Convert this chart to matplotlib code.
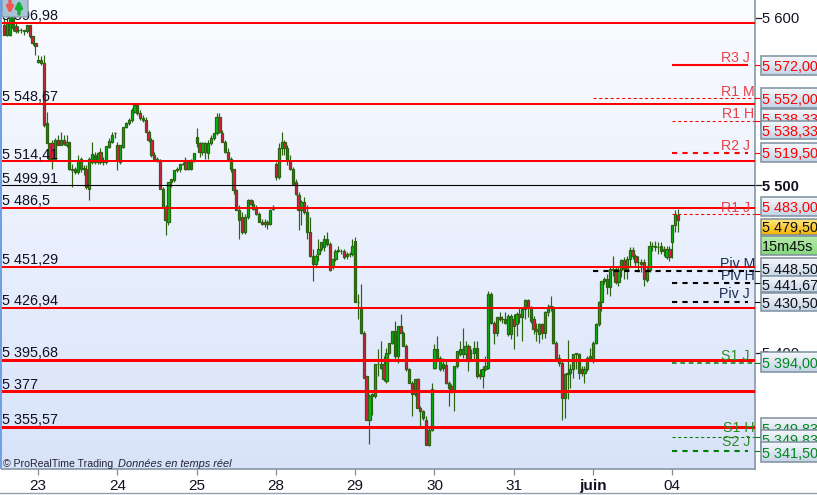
"""Recreate the ProRealTime 30 min candle chart with pivot levels."""

import matplotlib

matplotlib.use("Agg")

import matplotlib.pyplot as plt
import numpy as np
from matplotlib.patches import FancyBboxPatch

plt.rcParams["font.family"] = ["Liberation Sans", "DejaVu Sans"]

opens = [
    5596, 5590, 5590, 5601, 5595, 5593, 5592.5, 5592, 5592, 5596,
    5589, 5585, 5573.5, 5575, 5573, 5537, 5525, 5525, 5516, 5527,
    5524, 5527, 5524, 5526, 5510, 5510, 5508, 5510, 5510, 5510, 5498,
    5514, 5518, 5514, 5520, 5514, 5514, 5523, 5526, 5531, 5524,
    5514, 5523, 5535, 5537, 5539, 5544, 5548, 5543, 5540, 5539,
    5532, 5527, 5518, 5516, 5515, 5498, 5487, 5478, 5502, 5503,
    5509, 5510, 5513, 5515, 5510, 5515, 5515, 5529, 5525, 5520,
    5520, 5519, 5525, 5528, 5531, 5541, 5531, 5526, 5520,
    5516, 5510, 5497, 5485, 5481, 5472, 5481, 5491, 5489, 5486,
    5483, 5478, 5477, 5478, 5477, 5486, 5513, 5505, 5522, 5526,
    5522, 5515, 5510, 5502, 5494, 5485, 5490, 5484, 5472, 5458,
    5453, 5459, 5462, 5463, 5468, 5465, 5451, 5456, 5461, 5461,
    5461, 5458, 5459, 5459, 5467, 5430, 5427, 5412, 5386, 5360,
    5374, 5374, 5393, 5393, 5393, 5383, 5400, 5406, 5413, 5398,
    5416, 5412, 5404, 5390, 5382, 5375, 5384, 5367, 5365, 5360,
    5345, 5354, 5391, 5402, 5390, 5393, 5392.5, 5382, 5380, 5377,
    5392, 5399, 5399, 5399, 5404, 5399.5, 5400, 5403, 5387, 5386,
    5390, 5391, 5435, 5418, 5412, 5421, 5420, 5420, 5411, 5411,
    5420, 5417, 5423, 5421, 5426, 5431.5, 5427, 5420, 5414, 5411,
    5417, 5412, 5424, 5427, 5427, 5406, 5397, 5394, 5373, 5387,
    5388, 5390, 5399, 5399, 5390, 5388, 5390, 5397, 5396, 5406,
    5417, 5430, 5443, 5444, 5439, 5450, 5450, 5442, 5449.5, 5455.5,
    5449.5, 5456, 5461.5, 5457.5, 5454, 5454, 5454, 5443.5, 5449.5, 5464,
    5463.5, 5463, 5464, 5462, 5457, 5462, 5466, 5476, 5482,
]
highs = [
    5600, 5600, 5604, 5604, 5597, 5595, 5594, 5593, 5596, 5596,
    5589, 5585, 5578, 5577, 5578, 5544, 5525, 5527, 5528, 5530,
    5532, 5530, 5530, 5526, 5513, 5511, 5518, 5517, 5512, 5512, 5517,
    5526, 5520, 5520, 5522, 5517, 5523, 5528, 5532, 5532, 5526,
    5524, 5535, 5538, 5540, 5546, 5549, 5549, 5545, 5542, 5541,
    5533, 5528, 5520, 5517, 5516, 5499, 5488, 5502, 5504, 5509,
    5511, 5513, 5514, 5517, 5515, 5516, 5519, 5534, 5526, 5526,
    5526, 5527, 5530, 5531, 5543, 5543, 5533, 5527, 5522,
    5517, 5510, 5498, 5488, 5484, 5483, 5492, 5492, 5491, 5488,
    5484, 5480, 5480, 5479, 5486, 5488, 5514, 5525, 5532, 5527,
    5524, 5518, 5511, 5504, 5496, 5491, 5493, 5488, 5481, 5462,
    5459, 5468, 5466, 5470, 5472, 5466, 5456, 5462, 5464, 5462,
    5462, 5460, 5460, 5468, 5469, 5435, 5441, 5413, 5386, 5375,
    5376, 5393, 5402, 5407, 5398, 5403, 5406, 5413, 5419, 5416,
    5423, 5413, 5405, 5391, 5383, 5384, 5385, 5368, 5366, 5362,
    5355, 5382, 5405, 5410, 5398, 5397, 5395, 5383, 5381, 5392,
    5401, 5407, 5415, 5407, 5405, 5402, 5407, 5407, 5390, 5392,
    5398, 5437, 5436.5, 5419, 5421, 5424, 5422, 5424, 5423, 5423,
    5423, 5424, 5427, 5427, 5432, 5432, 5428, 5422, 5418, 5418,
    5418, 5425, 5429, 5434, 5428, 5407, 5399, 5395, 5388, 5407.6,
    5393, 5399, 5400, 5400, 5392, 5392, 5398, 5403, 5407, 5418,
    5431, 5443, 5445, 5447, 5451, 5457.5, 5452, 5451, 5456, 5457,
    5458, 5463, 5463, 5459, 5458, 5456, 5456, 5452, 5467, 5466,
    5467, 5466, 5466, 5464, 5464, 5464, 5476, 5485, 5485.7,
]
lows = [
    5590, 5589, 5589, 5592, 5591, 5591, 5591, 5590, 5591, 5588,
    5584, 5578, 5573, 5572, 5535, 5525, 5516, 5510, 5515, 5524,
    5524, 5524, 5523, 5509, 5499, 5507, 5507, 5508, 5506, 5498, 5491,
    5513, 5513, 5513, 5513, 5512, 5513, 5522, 5525, 5528, 5509,
    5513, 5522, 5534, 5536, 5538, 5543, 5542, 5539, 5538, 5532,
    5526, 5517, 5515, 5514, 5498, 5487, 5470, 5476, 5499, 5502,
    5508, 5508, 5512, 5509, 5509, 5509, 5514, 5523, 5517, 5518,
    5516, 5516, 5524, 5527, 5530, 5531, 5526, 5519, 5515,
    5508, 5495, 5485, 5468, 5471, 5471, 5480, 5488, 5485, 5482,
    5478, 5476, 5475, 5474, 5476, 5485, 5503, 5504, 5518, 5518,
    5512, 5509, 5500, 5494, 5473, 5476, 5483, 5468, 5457, 5443,
    5452, 5455, 5461, 5461, 5464, 5449, 5450, 5455, 5460, 5459,
    5456, 5456, 5457, 5458, 5430, 5420, 5411, 5385, 5360, 5345.5,
    5363, 5373, 5386, 5390, 5383, 5382, 5399, 5405, 5396, 5394,
    5412, 5404, 5389, 5382, 5362, 5374, 5367, 5355, 5360, 5345,
    5344, 5353, 5390, 5396, 5389, 5389, 5381, 5368, 5376, 5365,
    5391, 5398, 5397, 5396, 5389, 5396, 5396, 5385, 5384, 5379,
    5389, 5390, 5417, 5405, 5410, 5419, 5418, 5417, 5410, 5408,
    5402, 5410, 5418, 5407, 5420, 5421, 5418, 5411, 5407, 5406,
    5408, 5409, 5422, 5425, 5405, 5396, 5392, 5360, 5361, 5372,
    5379, 5385, 5390, 5384, 5386, 5382, 5389, 5395, 5394, 5405,
    5416, 5425, 5441, 5435, 5434, 5446, 5441, 5440, 5445, 5444,
    5444, 5451, 5456, 5451, 5448, 5448, 5440, 5442, 5448, 5461,
    5461, 5459, 5459, 5458, 5456, 5455, 5456.5, 5472, 5472,
]
closes = [
    5590, 5597, 5601, 5594, 5592, 5592.5, 5593, 5592.5, 5596, 5589,
    5585, 5583, 5575, 5573, 5536, 5525, 5516, 5516, 5527, 5524,
    5527, 5524.5, 5526, 5510, 5509, 5508, 5515, 5515.5, 5510.5, 5499, 5516,
    5518.5, 5514, 5519.5, 5514, 5515, 5523.5, 5526.5, 5530, 5531, 5515,
    5524, 5535, 5537, 5539, 5545, 5548, 5543, 5540, 5539, 5532,
    5527, 5518, 5516, 5515, 5498, 5487, 5479, 5502, 5503.5, 5509,
    5510, 5513, 5513, 5510, 5514, 5510, 5519, 5525, 5520, 5525,
    5525, 5525, 5528, 5531, 5541, 5532, 5526, 5520, 5516,
    5510, 5497, 5485, 5479, 5472, 5481, 5491, 5489, 5486, 5483,
    5478, 5477, 5478, 5477, 5485, 5487, 5505, 5522, 5526, 5522,
    5515, 5510, 5501, 5495, 5485, 5490, 5484, 5472, 5458, 5453,
    5458, 5462, 5466, 5468, 5465, 5449.5, 5456, 5461, 5461.5, 5461,
    5457, 5459, 5459, 5464, 5430, 5430, 5412, 5385, 5360, 5374,
    5375, 5393, 5393.5, 5391, 5384, 5400, 5406, 5413, 5398, 5416,
    5412, 5404, 5390, 5382, 5375, 5384, 5367, 5365, 5361, 5345,
    5354, 5378, 5402, 5397, 5397, 5391, 5382, 5379, 5377, 5392,
    5401, 5402, 5402, 5404, 5395, 5400, 5403, 5386, 5386, 5390,
    5392, 5435, 5418, 5412, 5421, 5420, 5420, 5418, 5422, 5422,
    5416, 5423, 5421, 5426, 5431.5, 5427, 5419, 5414, 5413, 5417,
    5412, 5424, 5427, 5428, 5406, 5397, 5394, 5373, 5387, 5388,
    5390, 5399, 5399.5, 5388, 5388, 5390, 5397, 5398, 5406, 5417,
    5430, 5443, 5444, 5439, 5450, 5449.5, 5442, 5449.5, 5455.5, 5450,
    5456, 5461.5, 5457.5, 5454, 5454, 5453, 5444, 5449.5, 5464, 5463.5,
    5463, 5463, 5461, 5461, 5462, 5457, 5476, 5483, 5479.5,
]

day_labels = ["23", "24", "25", "28", "29", "30", "31", "juin", "04"]
day_ticks = [12, 40, 68, 96, 124, 152, 180, 208, 236]

level_prices = [5596.98, 5548.67, 5514.41, 5486.5, 5451.29, 5426.94, 5395.68, 5377, 5355.57]
level_labels = ["5 596,98", "5 548,67", "5 514,41", "5 486,5", "5 451,29", "5 426,94", "5 395,68", "5 377", "5 355,57"]
level_widths = [2, 2, 2, 2, 2, 2, 3, 3, 3]
ref_price = 5499.91
ref_label = "5 499,91"

pivot_prices = [5572, 5552, 5538.33, 5519.5, 5483, 5448.5, 5441.67, 5430.5, 5394, 5349.83, 5341.5]
pivot_starts = [236, 208, 236, 236, 236, 208, 236, 236, 236, 236, 236]
pivot_ends = [262.8, 265, 265, 262.8, 265, 265, 265, 262.8, 265, 265, 262.8]
pivot_colors = ["#ff0000"] * 5 + ["#000000"] * 3 + ["#008000"] * 3
pivot_styles = ["-", "t", "t", "b", "t", "b", "b", "b", "d", "t", "b"]

pivot_names = ["R3 J", "R1 M", "R1 H", "R2 J", "R1 J", "Piv M", "Piv H", "Piv J", "S1 J", "S1 H", "S2 J"]
name_x = [750, 755, 754, 750, 750, 755, 755, 750, 750, 755, 750]
name_y = [57, 90, 112, 145, 206, 262, 275, 293, 354, 427, 441]
name_colors = ["#e8404a"] * 5 + ["#1c2c50"] * 3 + ["#2f8a20"] * 3

RED = "#ff0000"
GREEN_TAG = "#008a20"
BLACK = "#101018"


def draw_candles(ax):
    idx = np.arange(len(opens))
    o, h, l, c = map(np.asarray, (opens, highs, lows, closes))
    wick = "#2b6410"
    ax.vlines(idx, l, h, color=wick, linewidth=0.85, zorder=2)
    colors = np.where(c >= o, "#00c010", "#f0104a")
    bottoms = np.minimum(o, c)
    heights = np.abs(c - o)
    ax.bar(idx, heights, bottom=bottoms, width=0.8, color=colors, edgecolor=wick, linewidth=0.9, zorder=3)


def draw_levels(ax):
    for price, label, width in zip(level_prices, level_labels, level_widths):
        ax.axhline(price, color=RED, linewidth=width * 0.72, zorder=5)
        ax.annotate(label, (0, price), xycoords=("axes fraction", "data"), xytext=(0.3, -0.3),
                    textcoords="offset points", va="bottom", fontsize=10.4, color="#111122", zorder=6)
    ax.axhline(ref_price, color="black", linewidth=0.8, zorder=4)
    ax.annotate(ref_label, (0, ref_price), xycoords=("axes fraction", "data"), xytext=(0.3, -0.3),
                textcoords="offset points", va="bottom", fontsize=10.4, color="#111122", zorder=6)


def draw_pivots(ax):
    for price, start, end, color, style in zip(pivot_prices, pivot_starts, pivot_ends, pivot_colors, pivot_styles):
        if style == "-":
            ax.hlines(price, start, end, color=color, linewidth=1.5, zorder=4)
        elif style == "t":
            ax.hlines(price, start, end, color=color, linewidth=0.75, linestyles=(0, (3, 2.5)), zorder=4)
        elif style == "d":
            ax.hlines(price, start, end, color=color, linewidth=1.1, linestyles=(0, (3, 2.5)), zorder=4)
        else:
            ax.hlines(price, start, end, color=color, linewidth=1.5, linestyles=(0, (2.5, 2.5)), zorder=4)
        # short mark between the axis and the price tag
        ax.plot([265.2, 267.3], [price, price], color=color, linewidth=0.8, clip_on=False, zorder=6)


def tag(over, top, bottom, text, color, center=None, colors=("#f4f7fb", "#c4d4e6"), weight="normal"):
    grad = np.linspace(0, 1, 20).reshape(-1, 1)
    c0 = np.array(matplotlib.colors.to_rgb(colors[0]))
    c1 = np.array(matplotlib.colors.to_rgb(colors[1]))
    rgb = c0 + (c1 - c0) * grad[..., None]
    over.imshow(rgb, extent=(761, 818, bottom, top), aspect="auto", zorder=3)
    over.plot([818, 761, 761, 818], [top, top, bottom, bottom], color="#7d8f9f", linewidth=1.1, zorder=3,
              solid_joinstyle="miter")
    y_text = center if center is not None else (top + bottom) / 2
    label = over.text(762, y_text, text, color=color, fontsize=10.4, va="center_baseline", ha="left",
                      fontweight=weight, zorder=3)
    # later tags cover the earlier ones, so text must stay inside its own box
    label.set_clip_on(True)


def main():
    fig = plt.figure(figsize=(8.17, 4.95), dpi=100)
    ax = fig.add_axes([2 / 817, 26 / 495, 753 / 817, 469 / 495])
    grad = np.linspace(0, 1, 256).reshape(-1, 1)
    top_col = np.array(matplotlib.colors.to_rgb("#fbfcff"))
    bot_col = np.array(matplotlib.colors.to_rgb("#d8e3fa"))
    ax.imshow(top_col + (bot_col - top_col) * grad[..., None], extent=(0, 1, 0, 1),
              transform=ax.transAxes, aspect="auto", zorder=0)

    draw_candles(ax)
    draw_levels(ax)
    draw_pivots(ax)

    ax.set_xlim(-0.8, 265.24)
    ax.set_ylim(5330.47, 5610.72)
    ax.set_xticks(day_ticks, day_labels, fontsize=11)
    ax.get_xticklabels()[7].set_fontweight("bold")
    ax.tick_params(axis="x", length=4, width=0.9, color="#7d8f9f", pad=3, labelcolor="#111122")
    ax.yaxis.tick_right()
    ax.set_yticks([5400, 5500, 5600], ["5 400", "5 500", "5 600"], fontsize=10.6)
    ax.get_yticklabels()[1].set_fontweight("bold")
    ax.tick_params(axis="y", length=5, width=0.9, color="#222222", pad=0.3, labelcolor="#111122")
    for side in ("top", "left"):
        ax.spines[side].set_visible(False)
    for side in ("right", "bottom"):
        ax.spines[side].set_color("#7d8f9f")
        ax.spines[side].set_linewidth(1.1)

    # overlay in pixel coordinates for the tags, names and window chrome
    over = fig.add_axes([0, 0, 1, 1], zorder=5)
    over.patch.set_alpha(0)
    over.axis("off")

    for name, x, y, color in zip(pivot_names, name_x, name_y, name_colors):
        over.text(x, y, name, color=color, fontsize=10.2, ha="right", va="center_baseline")

    tag(over, 56, 75, "5 572,00", RED)
    tag(over, 109, 128, "5 538,33", RED)
    tag(over, 88, 108, "5 552,00", RED)
    tag(over, 121, 139, "5 538,33", RED)
    tag(over, 143, 162, "5 519,50", RED)
    tag(over, 197, 216, "5 483,00", RED)
    tag(over, 219, 235, "5 479,50", BLACK, colors=("#ffe680", "#f4b400"))
    tag(over, 236, 255, "15m45s", BLACK, colors=("#b4eca8", "#86d87c"))
    tag(over, 258, 278, "5 448,50", BLACK)
    tag(over, 276, 292, "5 441,67", BLACK)
    tag(over, 293, 311, "5 430,50", BLACK)
    tag(over, 352, 372, "5 394,00", GREEN_TAG)
    tag(over, 418, 438, "5 349,83", GREEN_TAG)
    tag(over, 430, 449, "5 349,83", GREEN_TAG)
    tag(over, 442, 462, "5 341,50", GREEN_TAG)

    # left stripe and bottom rule
    over.fill_between([0, 2], 0, 469, color="#6f9fe6", linewidth=0)
    over.plot([0, 817], [493, 493], color="#8ea2b2", linewidth=1)

    over.text(3, 463, "© ProRealTime Trading", fontsize=7.6, color="#222233", va="center_baseline")
    over.text(118, 463, "Données en temps réel", fontsize=7.9, style="italic", color="#222233", va="center_baseline")

    # refresh button in the top left corner
    over.add_patch(FancyBboxPatch((2, -4), 26, 21, boxstyle="round,pad=0,rounding_size=2",
                                  facecolor="#a9c4d6", edgecolor="#7d95a8", linewidth=0.8))
    over.annotate("", xy=(10, 14), xytext=(10, 0), arrowprops=dict(arrowstyle="-|>", color="#f05858", lw=2.4, mutation_scale=9, shrinkA=0, shrinkB=0))
    over.annotate("", xy=(19, 0), xytext=(19, 14), arrowprops=dict(arrowstyle="-|>", color="#10b030", lw=2.4, mutation_scale=9, shrinkA=0, shrinkB=0))

    over.set_xlim(0, 817)
    over.set_ylim(495, 0)

    fig.savefig("out.png", dpi=100)
    plt.close(fig)


if __name__ == "__main__":
    main()
